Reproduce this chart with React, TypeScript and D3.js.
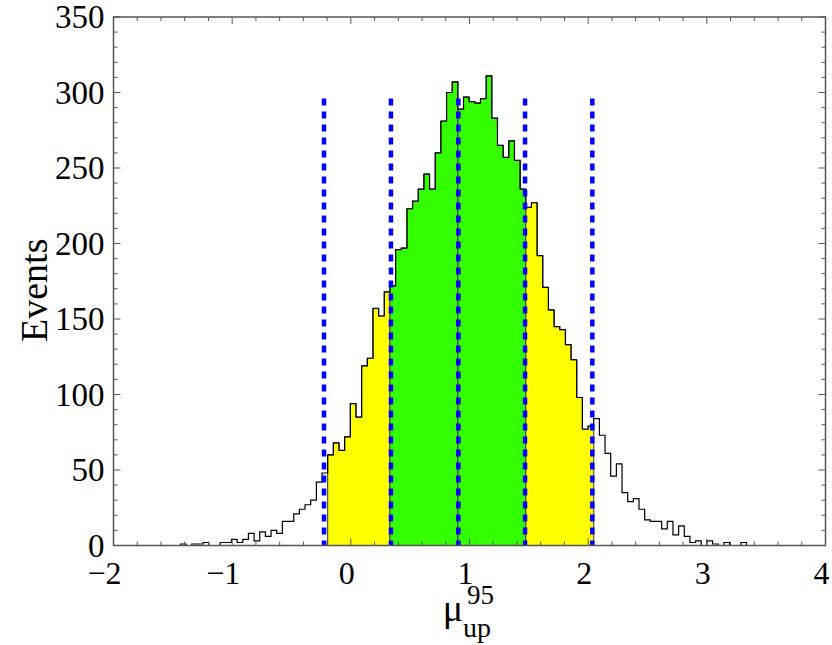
import React, { useEffect, useRef } from 'react';
import * as d3 from 'd3';

// histogram counts, one per bin, starting at binLo with width binWidth
const binLo = -1.483;
const binWidth = 0.0477;
const counts = [
  0, 1, 0, 1, 1, 2, 0, 0, 2, 2,
  4, 2, 4, 8, 3, 9, 6, 10, 8, 16,
  16, 21, 24, 27, 30, 42, 48, 60, 68, 63,
  72, 94, 85, 119, 124, 157, 152, 168, 172, 196,
  197, 223, 228, 236, 246, 236, 260, 281, 300, 307,
  289, 297, 294, 293, 296, 311, 283, 265, 257, 268,
  255, 236, 224, 227, 192, 171, 156, 145, 143, 133,
  123, 98, 77, 79, 84, 73, 61, 46, 54, 35,
  29, 31, 24, 17, 16, 16, 11, 16, 7, 13,
  6, 2, 3, 0, 3, 1, 0, 2, 0, 0,
  2, 0,
];

// shaded bands (x ranges) and their colours
const bands = [
  { lo: -0.195, hi: 0.330, color: '#ffff00' },
  { lo: 0.330, hi: 0.902, color: '#33ff00' },
  { lo: 0.902, hi: 1.475, color: '#33ff00' },
  { lo: 1.475, hi: 2.047, color: '#ffff00' },
];

// quantile markers (blue dashed)
const quantiles = [-0.226, 0.338, 0.906, 1.468, 2.035];
const quantileTop = 296;

const xTicks = [-2, -1, 0, 1, 2, 3, 4];
const yTicks = [0, 50, 100, 150, 200, 250, 300, 350];

const W = 832;
const H = 645;

const App = () => {
  const svgRef = useRef<SVGSVGElement | null>(null);

  useEffect(() => {
    const svg = d3.select(svgRef.current);
    svg.selectAll('*').remove();

    const left = 113.5, right = 825.5, top = 17, bottom = 545.5;
    const x = d3.scaleLinear().domain([-2, 4]).range([left, right]);
    const y = d3.scaleLinear().domain([0, 350]).range([bottom, top]);

    const bins = counts.map((c, i) => ({
      x0: binLo + i * binWidth,
      x1: binLo + (i + 1) * binWidth,
      c,
    }));

    // filled bands
    const area = d3.area<{ xv: number; c: number }>()
      .x(d => x(d.xv))
      .y0(y(0))
      .y1(d => y(d.c))
      .curve(d3.curveStepAfter);

    bands.forEach(b => {
      const inBand = bins.filter(d => {
        const mid = (d.x0 + d.x1) / 2;
        return mid > b.lo && mid < b.hi;
      });
      if (!inBand.length) return;
      const pts = inBand.map(d => ({ xv: d.x0, c: d.c }));
      pts.push({ xv: inBand[inBand.length - 1].x1, c: inBand[inBand.length - 1].c });
      svg.append('path')
        .attr('d', area(pts))
        .attr('fill', b.color)
        .attr('stroke', '#333')
        .attr('stroke-width', 1);
    });

    // histogram outline
    const linePts: [number, number][] = [[x(bins[0].x0), y(0)]];
    bins.forEach(d => {
      linePts.push([x(d.x0), y(d.c)]);
      linePts.push([x(d.x1), y(d.c)]);
    });
    linePts.push([x(bins[bins.length - 1].x1), y(0)]);
    svg.append('path')
      .attr('d', d3.line()(linePts))
      .attr('fill', 'none')
      .attr('stroke', '#000')
      .attr('stroke-width', 1.2);

    // blue dashed quantile lines
    quantiles.forEach(q => {
      svg.append('line')
        .attr('x1', x(q)).attr('x2', x(q))
        .attr('y1', y(quantileTop)).attr('y2', y(0))
        .attr('stroke', '#0000ff')
        .attr('stroke-width', 4.5)
        .attr('stroke-dasharray', '7 6');
    });

    // frame
    const frameColor = '#555';
    svg.append('rect')
      .attr('x', left).attr('y', top)
      .attr('width', right - left).attr('height', bottom - top)
      .attr('fill', 'none')
      .attr('stroke', frameColor)
      .attr('stroke-width', 1.5);

    const ticks = svg.append('g').attr('stroke', frameColor).attr('stroke-width', 1);
    d3.range(-2, 4.001, 0.2).forEach(v => {
      const major = Math.abs(v - Math.round(v)) < 1e-6;
      const len = major ? 7 : 4;
      ticks.append('line').attr('x1', x(v)).attr('x2', x(v)).attr('y1', bottom).attr('y2', bottom - len);
      ticks.append('line').attr('x1', x(v)).attr('x2', x(v)).attr('y1', top).attr('y2', top + len);
    });
    d3.range(0, 351, 10).forEach(v => {
      const major = v % 50 === 0;
      const len = major ? 7 : 4;
      ticks.append('line').attr('x1', left).attr('x2', left + len).attr('y1', y(v)).attr('y2', y(v));
      ticks.append('line').attr('x1', right).attr('x2', right - len).attr('y1', y(v)).attr('y2', y(v));
    });

    const font = '"Liberation Serif", "DejaVu Serif", serif';
    xTicks.forEach(v => {
      svg.append('text')
        .attr('x', x(v) - (v < 0 ? 9 : 4))
        .attr('y', bottom + 38)
        .attr('text-anchor', 'middle')
        .attr('font-family', font)
        .attr('font-size', 32)
        .text(v < 0 ? `\u2212${-v}` : `${v}`);
    });
    yTicks.forEach(v => {
      svg.append('text')
        .attr('x', left - 9)
        .attr('y', y(v) + 11)
        .attr('text-anchor', 'end')
        .attr('font-family', font)
        .attr('font-size', 33)
        .text(`${v}`);
    });

    svg.append('text')
      .attr('transform', `translate(47,${(top + bottom) / 2 + 9}) rotate(-90)`)
      .attr('text-anchor', 'middle')
      .attr('font-family', font)
      .attr('font-size', 38)
      .text('Events');

    svg.append('text')
      .attr('x', 463).attr('y', 621)
      .attr('text-anchor', 'end')
      .attr('font-family', font)
      .attr('font-size', 38)
      .text('\u03bc');
    svg.append('text')
      .attr('x', 467).attr('y', 604)
      .attr('font-family', font)
      .attr('font-size', 27)
      .text('95');
    svg.append('text')
      .attr('x', 463).attr('y', 637)
      .attr('font-family', font)
      .attr('font-size', 28)
      .text('up');
  }, []);

  return (
    <div style={{ position: 'fixed', left: 0, top: 0, width: W, height: H, background: '#fff' }}>
      <svg ref={svgRef} width={W} height={H}></svg>
    </div>
  );
};

export default App;
